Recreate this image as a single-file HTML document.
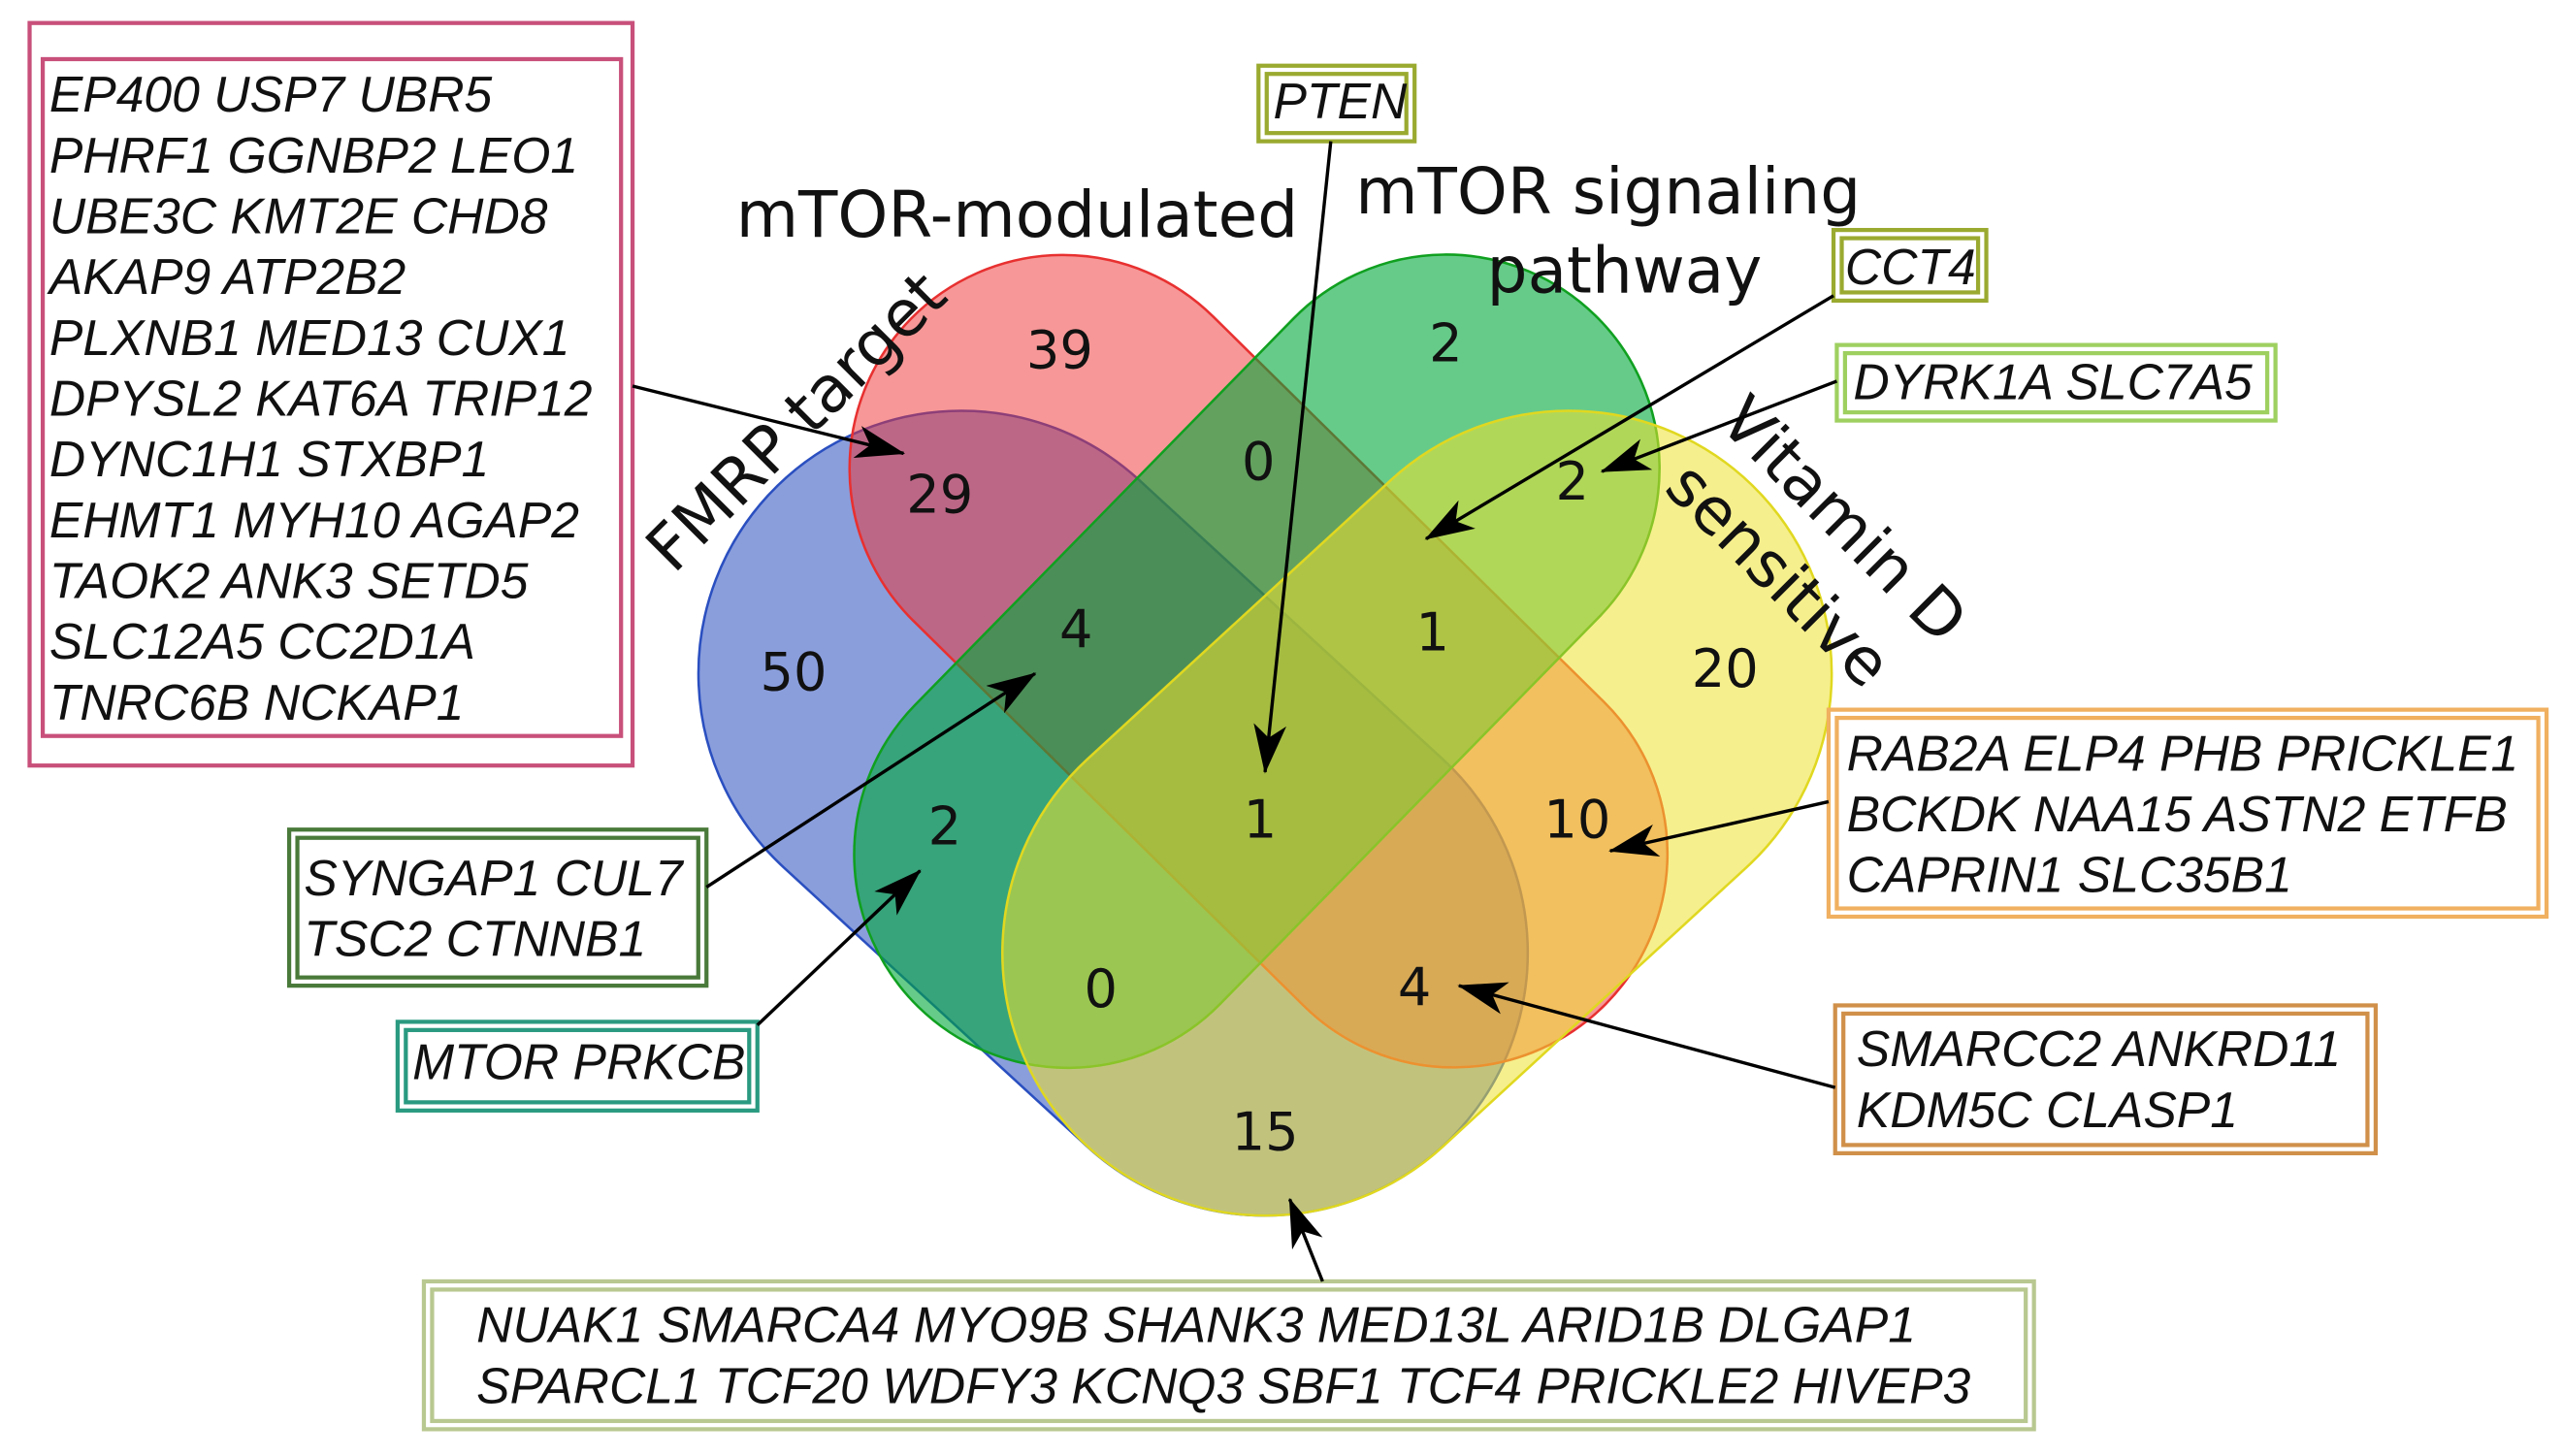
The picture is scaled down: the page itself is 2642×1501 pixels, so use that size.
<!DOCTYPE html>
<html><head><meta charset="utf-8"><style>
html,body{margin:0;padding:0;background:#fff;}
svg{display:block}
.g{font-family:"Liberation Sans",sans-serif;font-style:italic;font-size:30.5px;fill:#111}
.n{font-family:"DejaVu Sans","Liberation Sans",sans-serif;font-size:32px;fill:#111;text-anchor:middle}
.t{font-family:"DejaVu Sans","Liberation Sans",sans-serif;font-size:39px;fill:#111}
</style></head><body>
<svg width="2642" height="1501" viewBox="0 0 1560 886.3" xmlns="http://www.w3.org/2000/svg">
<defs>
<marker id="b" viewBox="0 0 30 20" refX="29" refY="10" markerWidth="30" markerHeight="20" orient="auto" markerUnits="userSpaceOnUse"><path d="M0,0 L30,10 L0,20 L8,10z" fill="#000"/></marker></defs>
<rect width="1560" height="886.3" fill="#fff"/>
<!-- blue -->
<rect x="-285.5" y="-160" width="571" height="320" rx="160" transform="translate(677.5,495) rotate(42.6)" fill="rgba(42,79,192,0.55)" stroke="#2a4fc0" stroke-width="1.5"/>
<!-- red -->
<rect x="-297" y="-130" width="594" height="260" rx="130" transform="translate(766,402.5) rotate(44.6)" fill="rgba(240,48,48,0.5)" stroke="#e83030" stroke-width="1.5"/>
<!-- green -->
<rect x="-294.5" y="-130" width="589" height="260" rx="130" transform="translate(765,402.5) rotate(134.4)" fill="rgba(0,168,58,0.6)" stroke="#10a020" stroke-width="1.5"/>
<!-- yellow -->
<rect x="-285.5" y="-160" width="571" height="320" rx="160" transform="translate(862.5,495) rotate(137.4)" fill="rgba(238,226,48,0.55)" stroke="#e0d820" stroke-width="1.5"/>
<text class="n" x="645" y="224">39</text>
<text class="n" x="880" y="220">2</text>
<text class="n" x="572" y="312">29</text>
<text class="n" x="766" y="292">0</text>
<text class="n" x="957" y="304">2</text>
<text class="n" x="483" y="420">50</text>
<text class="n" x="655" y="394">4</text>
<text class="n" x="872" y="396">1</text>
<text class="n" x="1050" y="418">20</text>
<text class="n" x="575" y="514">2</text>
<text class="n" x="767" y="510">1</text>
<text class="n" x="960" y="510">10</text>
<text class="n" x="670" y="613">0</text>
<text class="n" x="861" y="612">4</text>
<text class="n" x="770" y="700">15</text>
<text class="t" x="448" y="144">mTOR-modulated</text>
<text class="t" x="825" y="130">mTOR signaling</text>
<text class="t" x="905" y="178">pathway</text>
<text class="t" transform="translate(410,350) rotate(-45)">FMRP target</text>
<text class="t" transform="translate(1045,258) rotate(45)">Vitamin D</text>
<text class="t" transform="translate(1012,298) rotate(45)">sensitive</text>
<g fill="none" stroke-width="2.5">
<rect x="18" y="14" width="367" height="452" stroke="#c8507a"/><rect x="26" y="36" width="352" height="412" stroke="#c8507a"/>
<rect x="766" y="40" width="95" height="46" stroke="#9aaa30"/><rect x="771" y="45" width="85" height="36" stroke="#9aaa30"/>
<rect x="1116" y="140" width="93" height="43" stroke="#9aaa30"/><rect x="1121" y="145" width="83" height="33" stroke="#9aaa30"/>
<rect x="1118" y="210" width="267" height="46" stroke="#9ed060"/><rect x="1123" y="215" width="257" height="36" stroke="#9ed060"/>
<rect x="176" y="505" width="254" height="95" stroke="#4a7a3a"/><rect x="181" y="510" width="244" height="85" stroke="#4a7a3a"/>
<rect x="242" y="622" width="219" height="54" stroke="#2a9a80"/><rect x="247" y="627" width="209" height="44" stroke="#2a9a80"/>
<rect x="1113" y="432" width="437" height="126" stroke="#f0b060"/><rect x="1118" y="437" width="427" height="116" stroke="#f0b060"/>
<rect x="1117" y="612" width="329" height="90" stroke="#d0904a"/><rect x="1122" y="617" width="319" height="80" stroke="#d0904a"/>
<rect x="258" y="780" width="980" height="90" stroke="#b8c890"/><rect x="263" y="785" width="970" height="80" stroke="#b8c890"/>
</g>
<g class="g">
<text x="30" y="68">EP400 USP7 UBR5</text>
<text x="30" y="105">PHRF1 GGNBP2 LEO1</text>
<text x="30" y="142">UBE3C KMT2E CHD8</text>
<text x="30" y="179">AKAP9 ATP2B2</text>
<text x="30" y="216">PLXNB1 MED13 CUX1</text>
<text x="30" y="253">DPYSL2 KAT6A TRIP12</text>
<text x="30" y="290">DYNC1H1 STXBP1</text>
<text x="30" y="327">EHMT1 MYH10 AGAP2</text>
<text x="30" y="364">TAOK2 ANK3 SETD5</text>
<text x="30" y="401">SLC12A5 CC2D1A</text>
<text x="30" y="438">TNRC6B NCKAP1</text>
<text x="775" y="72">PTEN</text>
<text x="1123" y="173">CCT4</text>
<text x="1128" y="243">DYRK1A SLC7A5</text>
<text x="185" y="545">SYNGAP1 CUL7</text>
<text x="185" y="582">TSC2 CTNNB1</text>
<text x="251" y="657">MTOR PRKCB</text>
<text x="1124" y="469">RAB2A ELP4 PHB PRICKLE1</text>
<text x="1124" y="506">BCKDK NAA15 ASTN2 ETFB</text>
<text x="1124" y="543">CAPRIN1 SLC35B1</text>
<text x="1130" y="649">SMARCC2 ANKRD11</text>
<text x="1130" y="686">KDM5C CLASP1</text>
<text x="290" y="817">NUAK1 SMARCA4 MYO9B SHANK3 MED13L ARID1B DLGAP1</text>
<text x="290" y="854">SPARCL1 TCF20 WDFY3 KCNQ3 SBF1 TCF4 PRICKLE2 HIVEP3</text>
</g>
<g stroke="#000" stroke-width="2" marker-end="url(#b)">
<line x1="385" y1="235" x2="550" y2="276"/>
<line x1="810" y1="86" x2="770" y2="470"/>
<line x1="1116" y1="180" x2="868" y2="328"/>
<line x1="1118" y1="232" x2="975" y2="287"/>
<line x1="430" y1="540" x2="630" y2="410"/>
<line x1="461" y1="624" x2="560" y2="530"/>
<line x1="1113" y1="488" x2="980" y2="518"/>
<line x1="1117" y1="662" x2="888" y2="600"/>
<line x1="805" y1="780" x2="785" y2="730"/>
</g>
</svg>
</body></html>
